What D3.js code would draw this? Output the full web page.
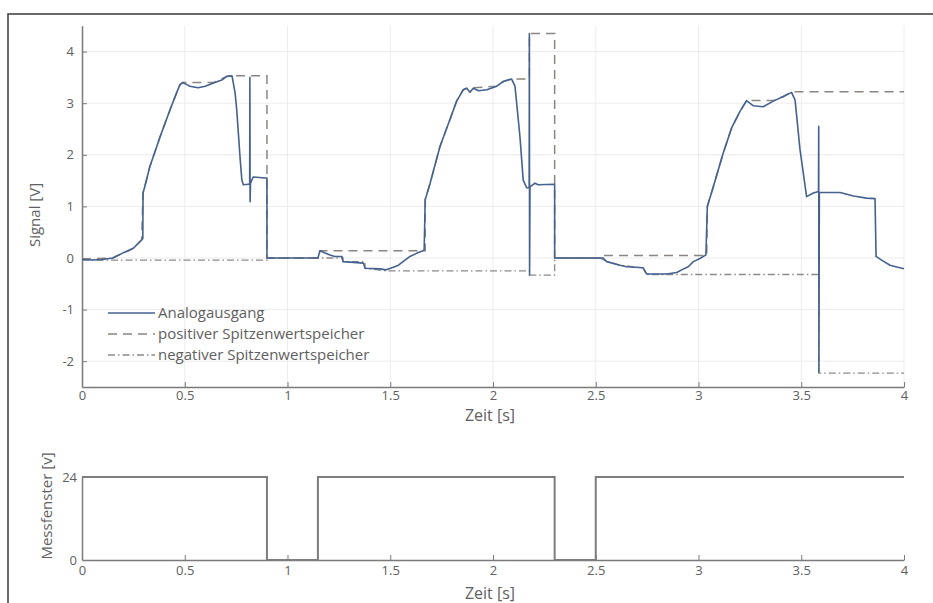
<!DOCTYPE html>
<html>
<head>
<meta charset="utf-8">
<script src="https://cdn.jsdelivr.net/npm/d3@7"></script>
<style>
  body { margin: 0; background: #fff; }
  svg { display: block; font-family: "Open Sans", "Noto Sans", sans-serif; }
</style>
</head>
<body>
<svg id="chart" width="933" height="603"></svg>
<script>
// Analogausgang [t (s), U (V)]
var analogPoints = [
  [0, -0.03], [0.05, -0.04], [0.1, -0.03], [0.15, 0.0], [0.2, 0.1], [0.22, 0.13],
  [0.25, 0.19], [0.27, 0.27], [0.29, 0.35], [0.296, 0.38], [0.297, 1.26], [0.31, 1.45],
  [0.33, 1.77], [0.38, 2.35], [0.428, 2.87], [0.46, 3.2], [0.477, 3.36], [0.49, 3.4],
  [0.51, 3.36], [0.525, 3.33], [0.565, 3.3], [0.6, 3.33], [0.64, 3.39], [0.68, 3.45],
  [0.705, 3.52], [0.73, 3.53], [0.745, 3.2], [0.753, 2.87], [0.77, 1.9], [0.778, 1.51],
  [0.785, 1.42], [0.81, 1.43], [0.816, 1.43], [0.817, 3.5], [0.818, 1.09], [0.82, 1.45],
  [0.833, 1.57], [0.89, 1.55], [0.9, 1.55], [0.9, 0], [1.148, 0], [1.158, 0.14],
  [1.18, 0.1], [1.207, 0.06], [1.23, 0.03], [1.265, 0.03], [1.27, -0.07], [1.37, -0.1],
  [1.377, -0.2], [1.45, -0.21], [1.48, -0.23], [1.515, -0.18], [1.54, -0.14], [1.572, -0.04],
  [1.596, 0.03], [1.628, 0.09], [1.665, 0.15], [1.67, 1.13], [1.694, 1.45], [1.742, 2.16],
  [1.79, 2.68], [1.823, 3.04], [1.855, 3.26], [1.872, 3.29], [1.888, 3.21], [1.904, 3.29],
  [1.93, 3.24], [1.97, 3.26], [2.018, 3.33], [2.05, 3.42], [2.09, 3.47], [2.107, 3.33],
  [2.131, 2.36], [2.147, 1.51], [2.164, 1.36], [2.176, 1.36], [2.177, 4.35], [2.178, -0.33],
  [2.18, 1.38], [2.204, 1.45], [2.22, 1.42], [2.3, 1.43], [2.3, 0], [2.52, 0],
  [2.536, 0.0], [2.553, -0.07], [2.618, -0.14], [2.65, -0.17], [2.73, -0.19], [2.748, -0.31],
  [2.845, -0.31], [2.894, -0.28], [2.918, -0.23], [2.95, -0.17], [2.975, -0.07], [3.007, -0.01],
  [3.036, 0.06], [3.043, 1.0], [3.072, 1.38], [3.12, 2.03], [3.161, 2.52], [3.202, 2.84],
  [3.234, 3.05], [3.267, 2.95], [3.315, 2.93], [3.364, 3.04], [3.413, 3.13], [3.453, 3.21],
  [3.47, 3.06], [3.494, 2.1], [3.526, 1.19], [3.559, 1.26], [3.584, 1.29], [3.585, 2.55],
  [3.586, -2.21], [3.588, 1.27], [3.623, 1.27], [3.689, 1.27], [3.754, 1.2], [3.818, 1.16],
  [3.859, 1.15], [3.864, 0.03], [3.891, -0.04], [3.932, -0.14], [3.96, -0.17], [4.0, -0.21]
];

// positiver Spitzenwertspeicher
var posPeakPoints = [
  [0, -0.02], [0.15, 0.0], [0.2, 0.1], [0.25, 0.19], [0.29, 0.35], [0.297, 1.26],
  [0.33, 1.77], [0.38, 2.35], [0.428, 2.87], [0.477, 3.36], [0.49, 3.4], [0.64, 3.4],
  [0.705, 3.52], [0.73, 3.53], [0.9, 3.53], [0.9, 0], [1.148, 0], [1.158, 0.14],
  [1.67, 0.14], [1.67, 1.13], [1.694, 1.45], [1.742, 2.16], [1.79, 2.68], [1.823, 3.04],
  [1.855, 3.26], [1.872, 3.29], [2.018, 3.33], [2.05, 3.42], [2.09, 3.47], [2.177, 3.47],
  [2.177, 4.35], [2.3, 4.35], [2.3, 0], [2.52, 0], [2.52, 0.05], [3.04, 0.05],
  [3.043, 1.0], [3.072, 1.38], [3.12, 2.03], [3.161, 2.52], [3.202, 2.84], [3.234, 3.05],
  [3.364, 3.05], [3.413, 3.13], [3.453, 3.22], [4.0, 3.22]
];

// negativer Spitzenwertspeicher
var negPeakPoints = [
  [0, -0.04], [0.9, -0.04], [0.9, 0], [1.148, 0], [1.27, 0], [1.27, -0.07],
  [1.377, -0.07], [1.377, -0.2], [1.48, -0.25], [2.177, -0.25], [2.177, -0.33], [2.3, -0.33],
  [2.3, 0], [2.52, 0], [2.553, -0.07], [2.618, -0.14], [2.73, -0.19], [2.748, -0.32],
  [3.585, -0.32], [3.585, -2.23], [4.0, -2.23]
];

// Messfenster [t (s), U (V)]
var windowPoints = [
  [0, 24], [0.9, 24], [0.9, 0], [1.148, 0], [1.148, 24], [2.3, 24],
  [2.3, 0], [2.5, 0], [2.5, 24], [4, 24]
];

var timeTicks = [0, 0.5, 1, 1.5, 2, 2.5, 3, 3.5, 4];
var signalTicks = [-2, -1, 0, 1, 2, 3, 4];
var windowTicks = [0, 24];
var legendLabels = ["Analogausgang", "positiver Spitzenwertspeicher", "negativer Spitzenwertspeicher"];

var svg = d3.select("#chart");
var axisColor = "#7a7a7a";
var textColor = "#606060";
var gridColor = "#ececec";

// frame around the figure
svg.append("path")
  .attr("d", "M8,603 L8,14 L933,14")
  .attr("fill", "none")
  .attr("stroke", "#3a3a3a")
  .attr("stroke-width", 1.5);

var x = d3.scaleLinear().domain([0, 4]).range([82, 904]);
var y = d3.scaleLinear().domain([-2.5, 4.5]).range([387, 25.8]);
var yWin = d3.scaleLinear().domain([0, 24]).range([560, 477]);

// grid
var grid = svg.append("g");
grid.selectAll(".gx").data(timeTicks.slice(1)).enter().append("line")
  .attr("x1", function (d) { return x(d); })
  .attr("x2", function (d) { return x(d); })
  .attr("y1", y(4.5)).attr("y2", y(-2.5))
  .attr("stroke", gridColor).attr("stroke-width", 1);
grid.selectAll(".gy").data(signalTicks).enter().append("line")
  .attr("x1", x(0)).attr("x2", x(4))
  .attr("y1", function (d) { return y(d); })
  .attr("y2", function (d) { return y(d); })
  .attr("stroke", gridColor).attr("stroke-width", 1);

function styleAxis(g) {
  g.select(".domain").attr("stroke", axisColor).attr("stroke-width", 1.5);
  g.selectAll(".tick line").attr("stroke", axisColor);
  g.selectAll(".tick text").attr("fill", textColor).attr("font-size", 13);
  g.attr("font-family", null);
}

var fmt = function (d) { return String(d); };

svg.append("g")
  .attr("transform", "translate(0," + y(-2.5) + ")")
  .call(d3.axisBottom(x).tickValues(timeTicks).tickFormat(fmt).tickSizeInner(-5).tickSizeOuter(0).tickPadding(4))
  .call(styleAxis);
svg.append("g")
  .attr("transform", "translate(" + x(0) + ",0)")
  .call(d3.axisLeft(y).tickValues(signalTicks).tickFormat(fmt).tickSizeInner(-5).tickSizeOuter(0).tickPadding(8))
  .call(styleAxis);

// series
var line = d3.line()
  .x(function (d) { return x(d[0]); })
  .y(function (d) { return y(d[1]); });

svg.append("path").datum(negPeakPoints)
  .attr("d", line).attr("fill", "none")
  .attr("stroke", "#8a8a8a").attr("stroke-width", 1.3)
  .attr("stroke-dasharray", "7,3,1.5,3");
svg.append("path").datum(posPeakPoints)
  .attr("d", line).attr("fill", "none")
  .attr("stroke", "#8a8580").attr("stroke-width", 1.5)
  .attr("stroke-dasharray", "9,6");
svg.append("path").datum(analogPoints)
  .attr("d", line).attr("fill", "none")
  .attr("stroke", "#44618f").attr("stroke-width", 1.6)
  .attr("stroke-linejoin", "round");

// legend
var legendStyles = [
  { stroke: "#44618f", dash: null, w: 1.6 },
  { stroke: "#8a8580", dash: "9,6", w: 1.5 },
  { stroke: "#8a8a8a", dash: "7,3,1.5,3", w: 1.3 }
];
var legend = svg.append("g");
legendLabels.forEach(function (label, i) {
  var ly = 313 + i * 21;
  legend.append("line")
    .attr("x1", 108).attr("x2", 155).attr("y1", ly).attr("y2", ly)
    .attr("stroke", legendStyles[i].stroke)
    .attr("stroke-width", legendStyles[i].w)
    .attr("stroke-dasharray", legendStyles[i].dash);
  legend.append("text")
    .attr("x", 158).attr("y", ly).attr("dy", "0.35em")
    .attr("font-size", 15).attr("fill", textColor)
    .text(label);
});

// axis titles
svg.append("text")
  .attr("x", 490).attr("y", 421)
  .attr("text-anchor", "middle").attr("font-size", 16).attr("fill", textColor)
  .text("Zeit [s]");
svg.append("text")
  .attr("transform", "translate(40,215) rotate(-90)")
  .attr("text-anchor", "middle").attr("font-size", 15).attr("fill", textColor)
  .text("Signal [V]");

// bottom chart: Messfenster
svg.append("g")
  .attr("transform", "translate(0," + yWin(0) + ")")
  .call(d3.axisBottom(x).tickValues(timeTicks).tickFormat(fmt).tickSizeInner(-5).tickSizeOuter(0).tickPadding(6))
  .call(styleAxis);
svg.append("g")
  .attr("transform", "translate(" + x(0) + ",0)")
  .call(d3.axisLeft(yWin).tickValues(windowTicks).tickFormat(fmt).tickSizeInner(0).tickSizeOuter(0).tickPadding(5))
  .call(styleAxis);

var winLine = d3.line()
  .x(function (d) { return x(d[0]); })
  .y(function (d) { return yWin(d[1]); });
svg.append("path").datum(windowPoints)
  .attr("d", winLine).attr("fill", "none")
  .attr("stroke", "#7d7d7d").attr("stroke-width", 2);

svg.append("text")
  .attr("x", 490).attr("y", 599)
  .attr("text-anchor", "middle").attr("font-size", 16).attr("fill", textColor)
  .text("Zeit [s]");
svg.append("text")
  .attr("transform", "translate(52,506) rotate(-90)")
  .attr("text-anchor", "middle").attr("font-size", 15).attr("fill", textColor)
  .text("Messfenster [v]");
</script>
</body>
</html>
